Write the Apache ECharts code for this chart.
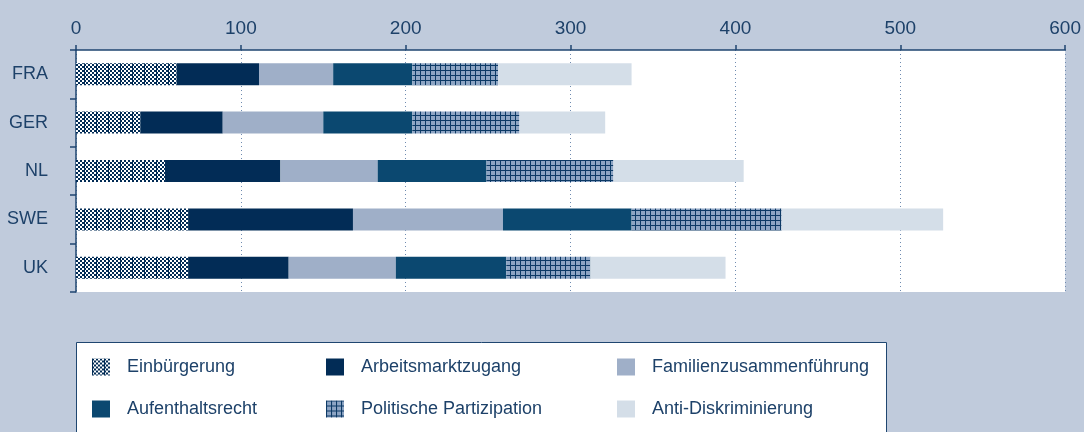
<!DOCTYPE html>
<html>
<head>
<meta charset="utf-8">
<script src="https://cdn.jsdelivr.net/npm/echarts@6/dist/echarts.min.js"></script>
<style>
  html, body { margin: 0; padding: 0; background: #c0cbdc; }
  #chart { width: 1084px; height: 432px; }
</style>
</head>
<body>
<div id="chart"></div>
<script>
// Daten
var countries = ['FRA', 'GER', 'NL', 'SWE', 'UK'];
var einbuergerung = [61, 39, 54, 68, 68];
var arbeitsmarkt = [50, 50, 70, 100, 61];
var familien = [45, 61, 59, 91, 65];
var aufenthalt = [48, 54, 66, 78, 67];
var politik = [52, 65, 77, 91, 51];
var antidiskr = [81, 52, 79, 98, 82];

var textColor = '#1d4169';
var axisColor = '#1f4670';
var fontFam = "'Liberation Sans', sans-serif";

// Schachbrett-Muster fuer Einbürgerung
function checkerPattern() {
  var c = document.createElement('canvas');
  c.width = 12; c.height = 4;
  var g = c.getContext('2d');
  g.fillStyle = '#ffffff';
  g.fillRect(0, 0, 12, 4);
  g.fillStyle = '#012b55';
  for (var x = 0; x < 12; x += 2) {
    for (var y = 0; y < 4; y += 2) {
      if (((x / 2) + (y / 2)) % 2 === 0) g.fillRect(x, y, 2, 2);
    }
  }
  g.fillRect(0, 0, 1, 4);
  return c;
}

// Gitter-Muster fuer Politische Partizipation
function gridPattern() {
  var c = document.createElement('canvas');
  c.width = 5; c.height = 5;
  var g = c.getContext('2d');
  g.fillStyle = '#8ea5c4';
  g.fillRect(0, 0, 5, 5);
  g.fillStyle = '#0d3a66';
  g.fillRect(0, 0, 1, 5);
  g.fillRect(0, 0, 5, 1);
  return c;
}

var chart = echarts.init(document.getElementById('chart'));

function mkSeries(name, data, color) {
  return {
    name: name,
    type: 'bar',
    stack: 'total',
    barWidth: 22,
    data: data,
    itemStyle: { color: color },
    emphasis: { disabled: true }
  };
}

var legendBase = {
  orient: 'vertical',
  top: 358,
  padding: 0,
  itemWidth: 18,
  itemHeight: 17,
  itemGap: 24,
  icon: 'rect',
  selectedMode: false,
  textStyle: { fontSize: 18, color: textColor, fontFamily: fontFam, padding: [0, 0, 0, 12], lineHeight: 17 }
};

var option = {
  animation: false,
  backgroundColor: '#c0cbdc',
  grid: {
    left: 76, right: 17, top: 50, height: 242,
    show: true, backgroundColor: '#ffffff', borderWidth: 0
  },
  xAxis: {
    type: 'value',
    position: 'top',
    min: 0, max: 600, interval: 100,
    axisLine: { show: true, lineStyle: { color: axisColor, width: 1.5 } },
    axisTick: { show: true, length: 5, lineStyle: { color: axisColor, width: 1.5 } },
    axisLabel: { fontSize: 19, color: textColor, fontFamily: fontFam, margin: 12 },
    splitLine: { show: true, lineStyle: { type: [1, 3], color: '#6f8bb0', width: 1 } }
  },
  yAxis: {
    type: 'category',
    inverse: true,
    data: countries,
    axisLine: { show: true, lineStyle: { color: axisColor, width: 1.5 } },
    axisTick: { show: true, length: 6, lineStyle: { color: axisColor, width: 1.5 } },
    axisLabel: { fontSize: 18, color: textColor, fontFamily: fontFam, margin: 28 },
    splitLine: { show: false }
  },
  legend: [
    Object.assign({}, legendBase, { left: 92, data: ['Einbürgerung', 'Aufenthaltsrecht'] }),
    Object.assign({}, legendBase, { left: 326, data: ['Arbeitsmarktzugang', 'Politische Partizipation'] }),
    Object.assign({}, legendBase, { left: 617, data: ['Familienzusammenführung', 'Anti-Diskriminierung'] })
  ],
  graphic: [{
    type: 'rect',
    shape: { x: 76.5, y: 342.5, width: 810, height: 120 },
    style: { fill: '#ffffff', stroke: axisColor, lineWidth: 1 },
    z: 0
  }],
  series: [
    mkSeries('Einbürgerung', einbuergerung, { image: checkerPattern(), repeat: 'repeat' }),
    mkSeries('Arbeitsmarktzugang', arbeitsmarkt, '#022c56'),
    mkSeries('Familienzusammenführung', familien, '#9fafc8'),
    mkSeries('Aufenthaltsrecht', aufenthalt, '#0b4870'),
    mkSeries('Politische Partizipation', politik, { image: gridPattern(), repeat: 'repeat' }),
    mkSeries('Anti-Diskriminierung', antidiskr, '#d4dee8')
  ]
};

chart.setOption(option);
</script>
</body>
</html>
